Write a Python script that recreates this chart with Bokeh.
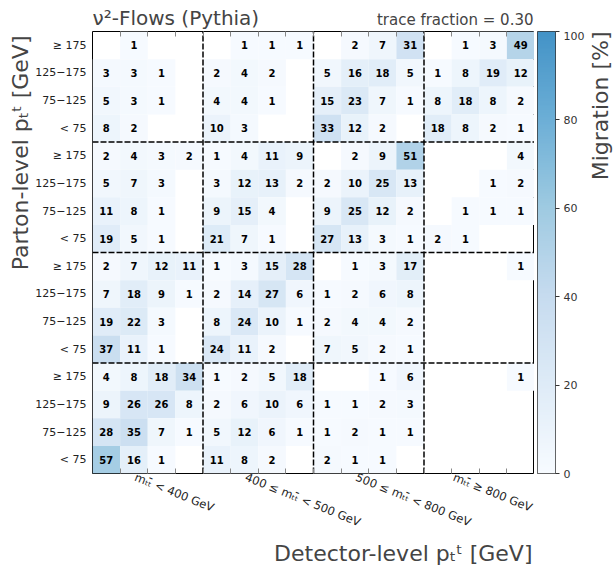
import math
import numpy as np
from bokeh.plotting import figure
from bokeh.layouts import row, column
from bokeh.models import (LinearColorMapper, FixedTicker, LinearAxis, Label, ColumnDataSource,
                          Range1d, Title)
from bokeh.transform import transform
from bokeh.core.properties import value
from bokeh.embed import file_html
from bokeh.resources import INLINE

# ---------------- data ----------------
mtt_labels = ["mₜₜ̄ < 400 GeV", "400 ≤ mₜₜ̄ < 500 GeV", "500 ≤ mₜₜ̄ < 800 GeV", "mₜₜ̄ ≥ 800 GeV"]
pt_labels = ["< 75", "75−125", "125−175", "≥ 175"]
# migration matrix in %, rows listed from top (parton bin 15) to bottom (parton bin 0); None = empty
rows_top_to_bottom = [
    [None, 1, None, None,  None, 1, 1, 1,       None, 2, 7, 31,    None, 1, 3, 49],
    [3, 3, 1, None,        2, 4, 2, None,       5, 16, 18, 5,      1, 8, 19, 12],
    [5, 3, 1, None,        4, 4, 1, None,       15, 23, 7, 1,      8, 18, 8, 2],
    [8, 2, None, None,     10, 3, None, None,   33, 12, 2, None,   18, 8, 2, 1],
    [2, 4, 3, 2,           1, 4, 11, 9,         None, 2, 9, 51,    None, None, None, 4],
    [5, 7, 3, None,        3, 12, 13, 2,        2, 10, 25, 13,     None, None, 1, 2],
    [11, 8, 1, None,       9, 15, 4, None,      9, 25, 12, 2,      None, 1, 1, 1],
    [19, 5, 1, None,       21, 7, 1, None,      27, 13, 3, 1,      2, 1, None, None],
    [2, 7, 12, 11,         1, 3, 15, 28,        None, 1, 3, 17,    None, None, None, 1],
    [7, 18, 9, 1,          2, 14, 27, 6,        1, 2, 6, 8,        None, None, None, None],
    [19, 22, 3, None,      8, 24, 10, 1,        2, 4, 4, 2,        None, None, None, None],
    [37, 11, 1, None,      24, 11, 2, None,     7, 5, 2, 1,        None, None, None, None],
    [4, 8, 18, 34,         1, 2, 5, 18,         None, None, 1, 6,  None, None, None, 1],
    [9, 26, 26, 8,         2, 6, 10, 6,         1, 1, 2, 3,        None, None, None, None],
    [28, 35, 7, 1,         5, 12, 6, 1,         1, 2, 1, 1,        None, None, None, None],
    [57, 16, 1, None,      11, 8, 2, None,      2, 1, 1, None,     None, None, None, None],
]
trace_fraction = 0.30
cbar_ticks = [0, 20, 40, 60, 80, 100]

# ---------------- build ----------------
n = len(rows_top_to_bottom)
xs, ys, vals, txt = [], [], [], []
for i, r in enumerate(rows_top_to_bottom):
    yi = n - 1 - i
    for j, v in enumerate(r):
        if v is None:
            continue
        xs.append(j + 0.5)
        ys.append(yi + 0.5)
        vals.append(v)
        txt.append(str(v))
src = ColumnDataSource(dict(x=xs, y=ys, v=vals, t=txt))

# Blues-like palette (0 -> 100 maps to Blues 0 -> ~0.62)
anchors = [(0.0, (247, 251, 255)), (0.125, (222, 235, 247)), (0.25, (198, 219, 239)),
           (0.375, (158, 202, 225)), (0.5, (107, 174, 214)), (0.625, (66, 146, 198))]
def blues(t):
    for (t0, c0), (t1, c1) in zip(anchors[:-1], anchors[1:]):
        if t <= t1:
            f = (t - t0) / (t1 - t0)
            return "#%02x%02x%02x" % tuple(int(round(a + (b - a) * f)) for a, b in zip(c0, c1))
    return "#%02x%02x%02x" % anchors[-1][1]
palette = [blues(0.62 * k / 255) for k in range(256)]
mapper = LinearColorMapper(palette=palette, low=0, high=100)

FONT = "DejaVu Sans"
LEFT, FRAME, TOPH, BOTTOM = 92, 442, 31, 95
MAIN_H = FRAME + BOTTOM

def bare(fig):
    fig.title.visible = False
    fig.grid.visible = False
    fig.axis.visible = False
    fig.outline_line_color = None
    fig.background_fill_color = "white"
    fig.border_fill_color = "white"

# top strip with the two titles
tstrip = figure(width=LEFT + FRAME, height=TOPH, x_range=Range1d(0, FRAME), y_range=Range1d(0, TOPH),
                output_backend="svg", toolbar_location=None,
                min_border_left=LEFT, min_border_right=0, min_border_top=0, min_border_bottom=0)
bare(tstrip)
tstrip.add_layout(Label(x=0, y=TOPH / 2 - 2, text="ν²-Flows (Pythia)", text_font=FONT,
                        text_font_size="20px", text_align="left", text_baseline="middle"))
tstrip.add_layout(Label(x=FRAME - 1, y=TOPH / 2 - 4, text="trace fraction = %.2f" % trace_fraction,
                        text_font=FONT, text_font_size="15px", text_align="right",
                        text_baseline="middle"))

p = figure(width=LEFT + FRAME, height=MAIN_H, x_range=Range1d(0, 16), y_range=Range1d(0, 16),
           output_backend="svg", toolbar_location=None,
           min_border_left=LEFT, min_border_top=0, min_border_bottom=BOTTOM, min_border_right=0)
p.title.visible = False
p.grid.visible = False
p.outline_line_color = "black"
p.outline_line_width = 1
p.background_fill_color = "white"

p.rect(x="x", y="y", width=1, height=1, source=src, fill_color=transform("v", mapper), line_color=None)
p.text(x="x", y="y", text="t", source=src, text_align="center", text_baseline="middle",
       text_font=value(FONT), text_font_style="bold", text_font_size="10px", text_color="black")

# block separators
nb = len(mtt_labels)
bounds = [k * len(pt_labels) for k in range(1, nb)]
p.segment(x0=bounds, y0=[0] * len(bounds), x1=bounds, y1=[n] * len(bounds), line_color="black",
          line_width=1.5, line_dash="6 2")
p.segment(x0=[0] * len(bounds), y0=bounds, x1=[n] * len(bounds), y1=bounds, line_color="black",
          line_width=1.5, line_dash="6 2")

# axes
label_shift = 0.45  # tick labels start slightly left of block centres
centers = [k * len(pt_labels) + len(pt_labels) / 2 - label_shift for k in range(nb)]
xa = p.xaxis[0]
xa.ticker = FixedTicker(ticks=centers, minor_ticks=list(range(1, n)))
xa.major_label_overrides = {c: l for c, l in zip(centers, mtt_labels)}
xa.major_label_orientation = -0.384
xa.major_tick_in = 0
xa.major_tick_out = 0
xa.minor_tick_in = 5
xa.minor_tick_out = 0
xa.minor_tick_line_color = "#888888"
xa.axis_line_color = None
xa.major_label_text_font = FONT
xa.major_label_text_font_size = "11.5px"
xa.major_label_text_color = "#222222"
xa.major_label_standoff = 3

top = LinearAxis(ticker=FixedTicker(ticks=centers, minor_ticks=list(range(1, n))),
                 major_label_text_font_size="0px", major_label_text_alpha=0, axis_line_color=None,
                 minor_tick_in=5, minor_tick_out=0, minor_tick_line_color="#888888",
                 major_tick_in=0, major_tick_out=0, major_label_standoff=0)
p.add_layout(top, "above")

ycent = [k + 0.5 for k in range(n)]
ya = p.yaxis[0]
ya.ticker = FixedTicker(ticks=ycent)
ya.major_label_overrides = {c: pt_labels[k % len(pt_labels)] for k, c in enumerate(ycent)}
ya.major_tick_in = 0
ya.major_tick_out = 0
ya.minor_tick_in = 0
ya.minor_tick_out = 0
ya.axis_line_color = None
ya.major_label_text_font = FONT
ya.major_label_text_font_size = "11px"
ya.major_label_text_color = "#222222"
ya.major_label_standoff = 6

p.add_layout(Title(text="Detector-level pₜᵗ [GeV]", align="right", text_font=FONT,
                   text_font_size="22px", text_font_style="normal", standoff=0, offset=2), "below")
p.add_layout(Title(text="Parton-level pₜᵗ [GeV]", align="right", text_font=FONT,
                   text_font_size="22px", text_font_style="normal", standoff=0, offset=4), "left")

# colorbar figure
levels = np.linspace(0, 100, 256).reshape(-1, 1)
CB_W = 53
cb = figure(width=CB_W, height=MAIN_H, x_range=Range1d(0, 1), y_range=Range1d(0, 100),
            output_backend="svg", toolbar_location=None,
            min_border_left=3, min_border_top=0, min_border_bottom=BOTTOM, min_border_right=CB_W - 26,
            y_axis_location="right")
cb.title.visible = False
cb.grid.visible = False
cb.xaxis.visible = False
cb.outline_line_color = "#333333"
cb.image(image=[levels], x=0, y=0, dw=1, dh=100, color_mapper=mapper)
cya = cb.yaxis[0]
cya.ticker = FixedTicker(ticks=cbar_ticks)
cya.major_tick_out = 4
cya.major_tick_in = 0
cya.minor_tick_out = 0
cya.minor_tick_in = 0
cya.axis_line_color = None
cya.major_tick_line_color = "#333333"
cya.major_label_text_font = FONT
cya.major_label_text_font_size = "11px"
cya.major_label_text_color = "#333333"
cya.major_label_standoff = 4

# right strip with the colour-bar title
RS_W = 613 - (LEFT + FRAME) - CB_W
rstrip = figure(width=RS_W, height=MAIN_H, x_range=Range1d(0, RS_W), y_range=Range1d(0, MAIN_H),
                output_backend="svg", toolbar_location=None,
                min_border_left=0, min_border_right=0, min_border_top=0, min_border_bottom=0)
bare(rstrip)
rstrip.add_layout(Label(x=0, y=MAIN_H, angle=math.pi / 2, text="Migration [%]", text_font=FONT,
                        text_font_size="22px", text_align="right", text_baseline="top"))

cb_top = figure(width=613 - (LEFT + FRAME), height=TOPH, output_backend="svg", toolbar_location=None,
                min_border=0)
bare(cb_top)

layout = column(row(tstrip, cb_top), row(p, cb, rstrip))
open("out.html", "w").write(file_html(layout, INLINE))
